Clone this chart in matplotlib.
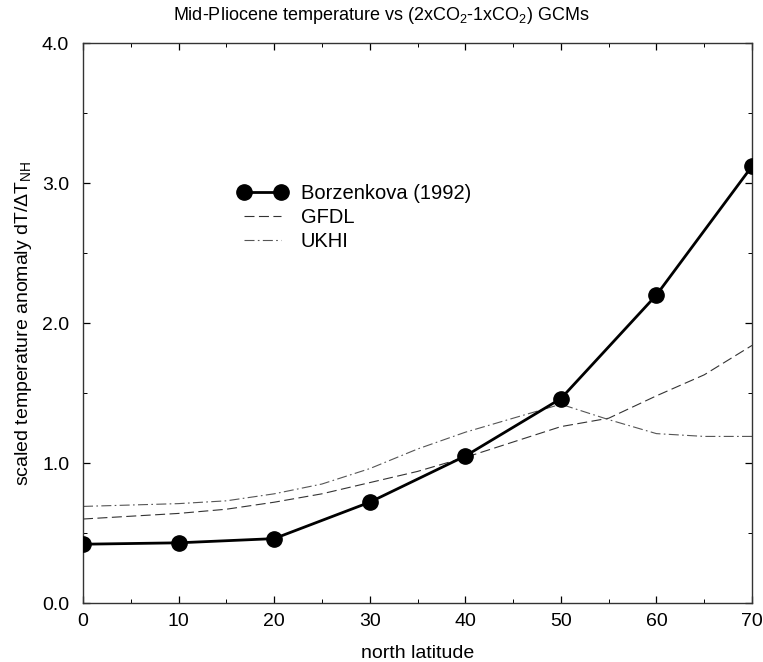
import numpy as np
import matplotlib
matplotlib.use("Agg")
import matplotlib.pyplot as plt
from matplotlib.ticker import MultipleLocator, FormatStrFormatter

plt.rcParams['font.family'] = ['Liberation Sans', 'DejaVu Sans']
plt.rcParams['mathtext.fontset'] = 'custom'
plt.rcParams['mathtext.rm'] = 'Liberation Sans'
plt.rcParams['mathtext.it'] = 'Liberation Sans:italic'

# Borzenkova (1992) reconstruction
lat_obs = [0, 10, 20, 30, 40, 50, 60, 70]
borzenkova = [0.42, 0.43, 0.46, 0.72, 1.05, 1.46, 2.20, 3.12]

# GCM curves, (2xCO2 - 1xCO2)
lat_gcm = [0, 5, 10, 15, 20, 25, 30, 35, 40, 45, 50, 55, 60, 65, 70]
gfdl = [0.60, 0.62, 0.64, 0.67, 0.72, 0.78, 0.86, 0.94, 1.04, 1.15, 1.26, 1.32, 1.48, 1.63, 1.84]
ukhi = [0.69, 0.70, 0.71, 0.73, 0.78, 0.85, 0.96, 1.10, 1.22, 1.32, 1.42, 1.31, 1.21, 1.19, 1.19]

fig = plt.figure(figsize=(7.63, 6.62), dpi=100)
ax = fig.add_axes([0.1088, 0.0891, 0.8768, 0.8459])

ax.plot(lat_obs, borzenkova, color='black', lw=2.0, marker='o', ms=11,
        label='Borzenkova (1992)', zorder=3)
ax.plot(lat_gcm, gfdl, color='#333333', lw=0.8, dashes=(9, 4), label='GFDL')
ax.plot(lat_gcm, ukhi, color='#555555', lw=0.8, dashes=(9, 3, 1.5, 3), label='UKHI')

ax.set_xlim(0, 70)
ax.set_ylim(0, 4)
ax.xaxis.set_major_locator(MultipleLocator(10))
ax.xaxis.set_minor_locator(MultipleLocator(5))
ax.yaxis.set_major_locator(MultipleLocator(1))
ax.yaxis.set_minor_locator(MultipleLocator(0.5))
ax.yaxis.set_major_formatter(FormatStrFormatter('%.1f'))
ax.tick_params(which='both', direction='in', top=True, right=True, labelsize=14)
ax.tick_params(axis='x', pad=7)
ax.tick_params(axis='y', pad=10)
ax.tick_params(which='major', length=5, width=0.9)
ax.tick_params(which='minor', length=3, width=0.7)
for s in ax.spines.values():
    s.set_linewidth(1.0)
    s.set_color('#333333')

ax.set_xlabel('north latitude', fontsize=14, labelpad=11)
ax.set_ylabel(r'scaled temperature anomaly dT/$\Delta$T$_{\rm NH}$', fontsize=14, labelpad=6)
fig.text(0.5, 0.977, r'Mid-Pliocene temperature vs (2xCO$_2$-1xCO$_2$) GCMs',
         fontsize=13, ha='center', va='center')

ax.legend(loc='upper left', bbox_to_anchor=(0.205, 0.78), frameon=False,
          handlelength=2.4, numpoints=2, fontsize=14.5, labelspacing=0.25,
          handletextpad=0.7)

fig.savefig('out.png', dpi=100)
